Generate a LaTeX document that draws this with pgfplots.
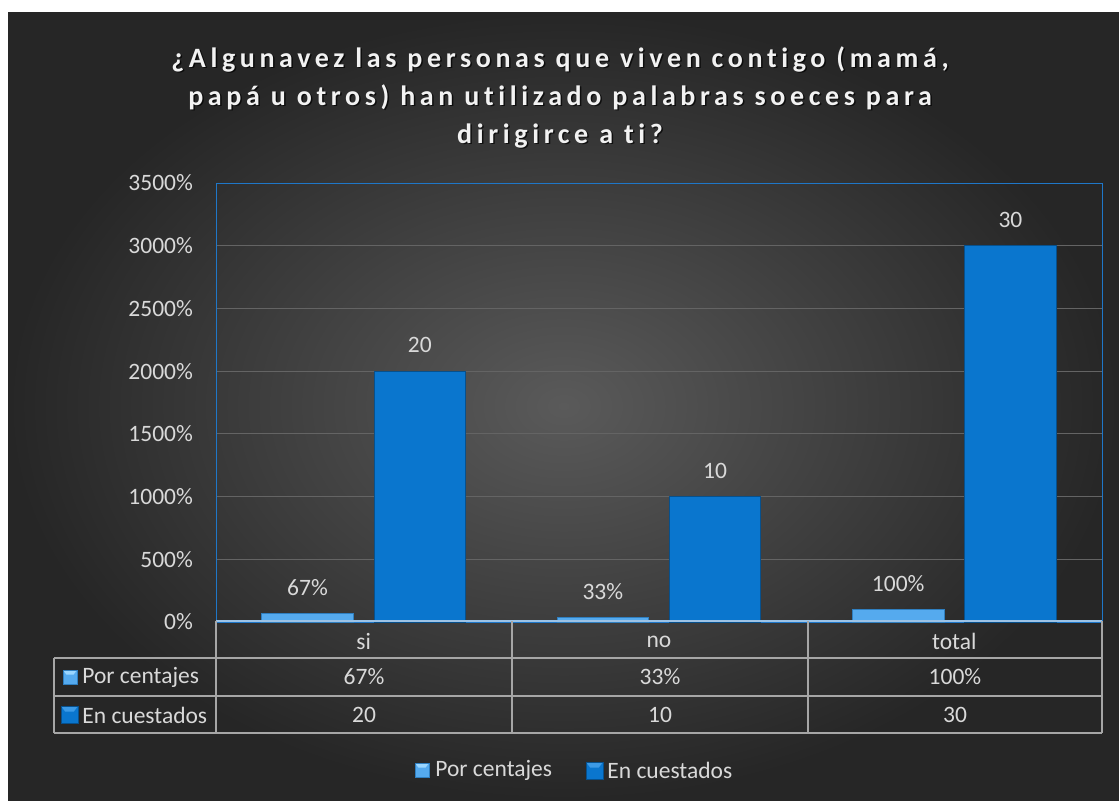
\documentclass[border=0pt]{standalone}
\usepackage{fontspec}
\setmainfont{Carlito}[Ligatures=NoCommon]
\newfontfamily\titlefont{Carlito}[LetterSpace=16.5, Ligatures=NoCommon]
\usepackage{pgfplots}
\pgfplotsset{compat=1.18}
\definecolor{bgin}{HTML}{5A5A5A}
\definecolor{bgout}{HTML}{262626}
\definecolor{txt}{HTML}{D9D9D9}
\definecolor{titlec}{HTML}{F2F2F2}
\definecolor{gridc}{HTML}{646464}
\definecolor{tabc}{HTML}{A6A6A6}
\definecolor{framec}{HTML}{1F77C8}
\definecolor{axisl}{HTML}{9DC3E6}
\definecolor{cuest}{HTML}{0A76CE}
\definecolor{cuestd}{HTML}{07508C}
\definecolor{cuestl}{HTML}{3C9AE6}
\definecolor{porc}{HTML}{55AAEE}
\definecolor{porcd}{HTML}{2F7FC0}
\definecolor{porcl}{HTML}{9AD6FF}

% bevelled legend square: x, y (top left), size, fill, edge, light
\newcommand{\icon}[6]{%
  \fill[#4] (#1,#2) rectangle ++(#3,#3);
  \fill[#6] (#1,#2) -- ++(#3,0) -- ++(-#3/4,#3/3) -- ++(-#3/2,0) -- cycle;
  \draw[#5, line width=0.4pt] (#1,#2) rectangle ++(#3,#3);
}

\begin{document}
\begin{tikzpicture}[x=0.5pt,y=-0.5pt]
\path[use as bounding box] (0,0) rectangle (1119,800);
\fill[white] (0,0) rectangle (1119,800);
\shade[inner color=bgin, outer color=bgout] (8,12) rectangle (1119,800);

% title
\node[text=black, opacity=0.7, align=center,
      font=\titlefont\bfseries\fontsize{14}{19}\selectfont] at (561.5,98.5)
  {¿Algunavez las personas que viven contigo (mamá,\\papá u otros) han utilizado palabras soeces para\\dirigirce a ti?};
\node[text=titlec, align=center,
      font=\titlefont\bfseries\fontsize{14}{19}\selectfont] at (560,97)
  {¿Algunavez las personas que viven contigo (mamá,\\papá u otros) han utilizado palabras soeces para\\dirigirce a ti?};

\begin{axis}[
    at={(108pt,-311pt)}, anchor=south west,
    scale only axis, width=443pt, height=219.5pt,
    xmin=-0.5, xmax=2.5, ymin=0, ymax=3500,
    xtick={0,1,2}, xticklabels={si,no,total},
    ytick={0,500,...,3500},
    /pgf/number format/assume math mode=true,
    yticklabel={\pgfmathprintnumber[fixed,1000 sep={}]{\tick}\%},
    tick style={draw=none},
    tick label style={font=\fontsize{11.75}{14}\selectfont, text=txt},
    xticklabel style={anchor=center, yshift=-5.5pt},
    yticklabel style={anchor=east, xshift=-8pt},
    ymajorgrids, grid style={gridc, line width=0.5pt},
    axis line style={framec, line width=0.5pt},
    ybar, bar width=0.31,
    nodes near coords, point meta=explicit symbolic,
    nodes near coords style={font=\fontsize{11.75}{14}\selectfont, text=txt, anchor=center, yshift=13pt},
]
\addplot[fill=porc, draw=porcd, bar shift=-0.19]
  coordinates {(0,67)[67\%] (1,33)[33\%] (2,100)[100\%]};
\addplot[fill=cuest, draw=cuestd, bar shift=0.19]
  coordinates {(0,2000)[20] (1,1000)[10] (2,3000)[30]};
\end{axis}

% axis base line
\draw[axisl, line width=0.9pt] (216,621) -- (1102,621);

% data table
\begin{scope}[tabc, line width=0.75pt]
  \draw (216,621) -- (216,733);
  \draw (512,621) -- (512,733);
  \draw (808,621) -- (808,733);
  \draw (1102,621) -- (1102,733);
  \draw (54,658) -- (1102,658);
  \draw (54,696) -- (1102,696);
  \draw (54,733) -- (1102,733);
  \draw (54,658) -- (54,733);
\end{scope}
\begin{scope}[every node/.style={font=\fontsize{11.75}{14}\selectfont, text=txt, inner sep=0pt}]
  \node at (364,677) {67\%};
  \node at (660,677) {33\%};
  \node at (955,677) {100\%};
  \node at (364,715) {20};
  \node at (660,715) {10};
  \node at (955,715) {30};
  \node[anchor=west] at (82,677) {Por centajes};
  \node[anchor=west] at (82,715) {En cuestados};
  \node[anchor=west] at (435,770) {Por centajes};
  \node[anchor=west] at (607,770) {En cuestados};
\end{scope}
\icon{63}{670}{14}{porc}{porcd}{porcl}
\icon{61}{706}{17}{cuest}{cuestd}{cuestl}
\icon{415}{763}{14}{porc}{porcd}{porcl}
\icon{586}{762}{17}{cuest}{cuestd}{cuestl}
\end{tikzpicture}
\end{document}
